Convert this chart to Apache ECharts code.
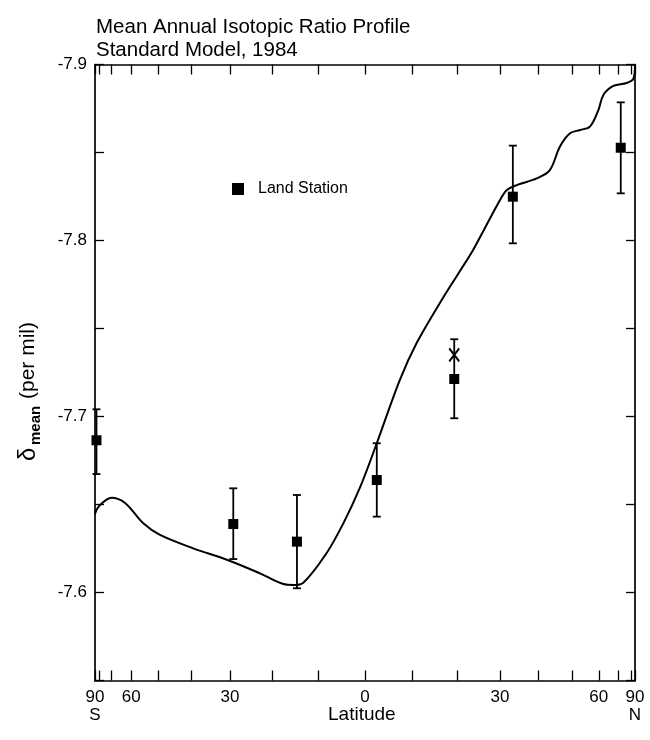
<!DOCTYPE html>
<html>
<head>
<meta charset="utf-8">
<script src="https://cdn.jsdelivr.net/npm/echarts@6/dist/echarts.min.js"></script>
<style>
  html, body { margin: 0; padding: 0; background: #fff; }
  #chart { width: 650px; height: 740px; }
</style>
</head>
<body>
<div id="chart"></div>
<script>
// Model profile: latitude (deg) and mean annual delta (per mil)
const modelLat = [-90, -80, -69.8, -62.7, -55.2, -49.4, -39.5, -30.6, -22.9, -17.6, -15.4, -13.2,
  -8.2, -4.6, -1.1, 2.5, 7.4, 11.0, 16.5, 20.6, 23.6, 30, 31.7, 34.2, 39.5, 43.2, 46.2, 49.4,
  52.8, 56.4, 59.8, 62, 66.9, 75.7, 83.6, 90];
const modelVal = [-7.6446, -7.6491, -7.6539, -7.6509, -7.6393, -7.6327, -7.6251, -7.6185, -7.6109,
  -7.6048, -7.6043, -7.6056, -7.6223, -7.6393, -7.6594, -7.6848, -7.7207, -7.7416, -7.7662,
  -7.7827, -7.7946, -7.823, -7.8287, -7.8315, -7.8353, -7.84, -7.8533, -7.8609, -7.8628,
  -7.8647, -7.8741, -7.8827, -7.8878, -7.8895, -7.8918, -7.8997];

// Land stations with error bar ends
const stationLat  = [-84, -29.2, -14.6, 2.5, 19.3, 33.2, 71.3];
const stationVal  = [-7.6865, -7.6389, -7.6289, -7.6639, -7.7213, -7.8249, -7.8527];
const stationLow  = [-7.6673, -7.619, -7.6024, -7.6431, -7.699, -7.7984, -7.8268];
const stationHigh = [-7.7041, -7.6592, -7.6554, -7.6848, -7.7439, -7.8539, -7.8785];

// Additional marker (x) at the 19.3N station
const crossLat = [19.3];
const crossVal = [-7.735];

// Axis ticks and labels
const latTicks  = [-90, -80, -70, -60, -50, -40, -30, -20, -10, 0, 10, 20, 30, 40, 50, 60, 70, 80, 90];
const latLabels = [-90, -60, -30, 0, 30, 60, 90];
const valTicks  = [-7.9, -7.85, -7.8, -7.75, -7.7, -7.65, -7.6, -7.55];
const valLabels = [-7.9, -7.8, -7.7, -7.6];

const FONT = "'Liberation Sans', Arial, sans-serif";
const rad = d => d * Math.PI / 180;
const sx = d => Math.sin(rad(d));   // area-weighted latitude coordinate

function latText(v) {
  const lat = Math.round(Math.asin(Math.max(-1, Math.min(1, v))) * 180 / Math.PI);
  if (lat === -90) return '90\nS';
  if (lat === 90) return '90\nN';
  return String(Math.abs(lat));
}

const axisLineStyle = { color: '#000', width: 1.7 };
const tickStyle = { color: '#000', width: 1.3 };

function xAxisDef(pos, labels) {
  return {
    type: 'value', position: pos, min: -1, max: 1,
    axisLine: { show: true, onZero: false, lineStyle: axisLineStyle },
    axisTick: { show: true, inside: true, length: 10, lineStyle: tickStyle, customValues: latTicks.map(sx) },
    axisLabel: {
      show: labels, customValues: latLabels.map(sx), formatter: latText,
      color: '#000', fontFamily: FONT, fontSize: 17, lineHeight: 18, margin: 8
    },
    splitLine: { show: false }
  };
}
function yAxisDef(pos, labels) {
  return {
    type: 'value', position: pos, inverse: true, min: -7.9, max: -7.55,
    axisLine: { show: true, onZero: false, lineStyle: axisLineStyle },
    axisTick: { show: true, inside: true, length: 9, lineStyle: tickStyle, customValues: valTicks },
    axisLabel: {
      show: labels, customValues: valLabels, formatter: v => v.toFixed(1),
      color: '#000', fontFamily: FONT, fontSize: 17, margin: 8
    },
    splitLine: { show: false }
  };
}

const chart = echarts.init(document.getElementById('chart'), null, { renderer: 'canvas' });

chart.setOption({
  backgroundColor: '#fff',
  animation: false,
  grid: { left: 95, right: 15, top: 64.5, bottom: 59.5, containLabel: false },
  xAxis: [xAxisDef('bottom', true), xAxisDef('top', false)],
  yAxis: [yAxisDef('left', true), yAxisDef('right', false)],
  legend: {
    data: [{ name: 'Land Station', icon: 'rect' }],
    left: 232, top: 181, padding: 0,
    itemWidth: 12, itemHeight: 12,
    textStyle: { color: '#000', fontFamily: FONT, fontSize: 16, padding: [0, 0, 0, 9] },
    selectedMode: false
  },
  graphic: [
    {
      type: 'text', left: 96, top: 17,
      style: { text: 'Mean Annual Isotopic Ratio Profile', font: '20.5px ' + FONT, fill: '#000' }
    },
    {
      type: 'text', left: 96, top: 40,
      style: { text: 'Standard Model, 1984', font: '20.5px ' + FONT, fill: '#000' }
    },
    {
      type: 'text', left: 328, top: 705,
      style: { text: 'Latitude', font: '19px ' + FONT, fill: '#000' }
    },
    {
      type: 'group', x: 28, y: 375, rotation: Math.PI / 2,
      children: [
        { type: 'text', x: -86, y: 0, style: { text: 'δ', font: '24px ' + FONT, fill: '#000', textAlign: 'left', textVerticalAlign: 'middle' } },
        { type: 'text', x: -70, y: 8, style: { text: 'mean', font: 'bold 15px ' + FONT, fill: '#000', textAlign: 'left', textVerticalAlign: 'middle' } },
        { type: 'text', x: -24, y: 0, style: { text: '(per mil)', font: '21px ' + FONT, fill: '#000', textAlign: 'left', textVerticalAlign: 'middle' } }
      ]
    }
  ],
  series: [
    {
      name: 'Model',
      type: 'line',
      xAxisIndex: 0, yAxisIndex: 0,
      data: modelLat.map((l, i) => [sx(l), modelVal[i]]),
      smooth: 0.35,
      showSymbol: false,
      lineStyle: { color: '#000', width: 2 },
      clip: false
    },
    {
      name: 'Error',
      type: 'custom',
      xAxisIndex: 0, yAxisIndex: 0,
      data: stationLat.map((l, i) => [sx(l), stationLow[i], stationHigh[i]]),
      encode: { x: 0, y: [1, 2] },
      clip: false,
      renderItem(params, api) {
        const x = api.value(0);
        const a = api.coord([x, api.value(1)]);
        const b = api.coord([x, api.value(2)]);
        const hw = 4;
        const st = { stroke: '#000', lineWidth: 1.8 };
        return {
          type: 'group',
          children: [
            { type: 'line', shape: { x1: a[0], y1: a[1], x2: b[0], y2: b[1] }, style: st },
            { type: 'line', shape: { x1: a[0] - hw, y1: a[1], x2: a[0] + hw, y2: a[1] }, style: st },
            { type: 'line', shape: { x1: b[0] - hw, y1: b[1], x2: b[0] + hw, y2: b[1] }, style: st }
          ]
        };
      }
    },
    {
      name: 'Land Station',
      type: 'scatter',
      xAxisIndex: 0, yAxisIndex: 0,
      data: stationLat.map((l, i) => [sx(l), stationVal[i]]),
      symbol: 'rect',
      symbolSize: 10,
      itemStyle: { color: '#000', opacity: 1 },
      clip: false,
      z: 5
    },
    {
      name: 'Cross',
      type: 'scatter',
      xAxisIndex: 0, yAxisIndex: 0,
      data: crossLat.map((l, i) => [sx(l), crossVal[i]]),
      symbol: 'path://M0,0L10,13M10,0L0,13',
      symbolSize: [10, 13],
      itemStyle: { color: 'rgba(0,0,0,0)', borderColor: '#000', borderWidth: 2, opacity: 1 },
      z: 5
    }
  ]
});
</script>
</body>
</html>
